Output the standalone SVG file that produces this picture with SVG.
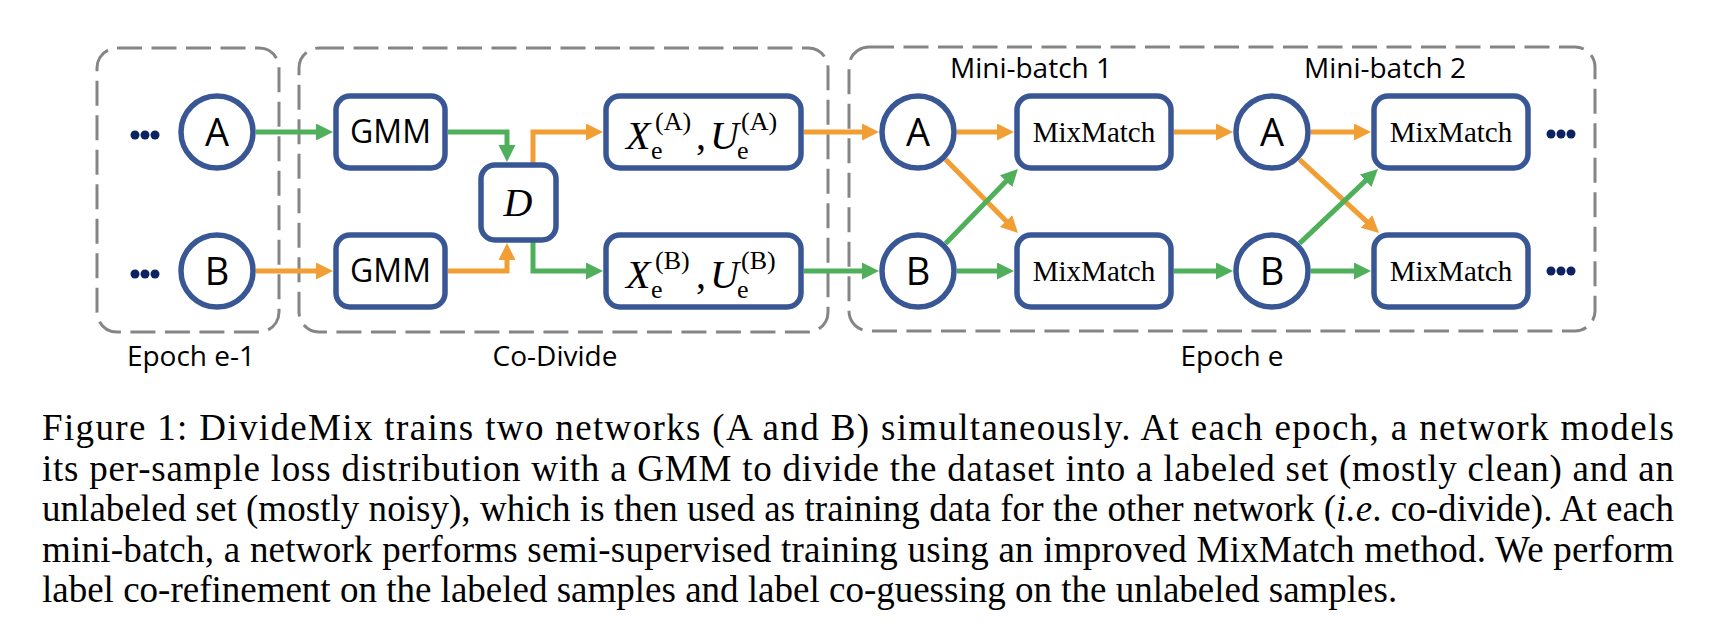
<svg xmlns="http://www.w3.org/2000/svg" width="1716" height="636" viewBox="0 0 1716 636">
<style>
.grp{fill:none;stroke:#858585;stroke-width:3;stroke-dasharray:25 9.5}
.nd{fill:#fff;stroke:#3A5795;stroke-width:5.5}
.lbl{font-family:"Open Sans","Noto Sans",sans-serif;font-size:28px;fill:#000;text-anchor:middle}
.ab{font-family:"Open Sans","Noto Sans",sans-serif;font-size:38px;fill:#000;text-anchor:middle}
.gmm{font-family:"Open Sans","Noto Sans",sans-serif;font-size:32px;fill:#000;text-anchor:middle}
.mm{font-family:"Liberation Serif",serif;font-size:29px;fill:#000;text-anchor:middle}
.math{font-family:"Liberation Serif",serif;fill:#000;font-size:40px}
.it{font-style:italic}
.sm{font-size:26px}
.cap{font-family:"Liberation Serif",serif;font-size:37px;fill:#000}
.o{fill:none;stroke:#F19E35;stroke-width:5}
.g{fill:none;stroke:#50AF5A;stroke-width:5}
.dot{fill:#0C2261}
</style>
<defs>
<marker id="ao" markerUnits="userSpaceOnUse" markerWidth="18" markerHeight="18" refX="7" refY="8.5" orient="auto"><path d="M0,0 L17,8.5 L0,17 z" fill="#F19E35"/></marker>
<marker id="ag" markerUnits="userSpaceOnUse" markerWidth="18" markerHeight="18" refX="7" refY="8.5" orient="auto"><path d="M0,0 L17,8.5 L0,17 z" fill="#50AF5A"/></marker>
</defs>

<g id="groups">
<rect class="grp" x="97" y="48" width="182" height="284" rx="20"/>
<rect class="grp" x="299" y="48" width="529" height="284" rx="20"/>
<rect class="grp" x="849" y="47" width="746" height="284" rx="20"/>
<text class="lbl" x="191" y="366">Epoch e-1</text>
<text class="lbl" x="555" y="366">Co-Divide</text>
<text class="lbl" x="1232" y="366">Epoch e</text>
<text class="lbl" x="1031" y="78">Mini-batch 1</text>
<text class="lbl" x="1385" y="78">Mini-batch 2</text>
</g>

<g id="connectors">
<path class="g" d="M256,132 H323" marker-end="url(#ag)"/>
<path class="o" d="M256,271 H323" marker-end="url(#ao)"/>
<path class="g" d="M448,132 H507 V152" marker-end="url(#ag)"/>
<path class="o" d="M448,271 H507 V253" marker-end="url(#ao)"/>
<path class="o" d="M533,165 V132 H593" marker-end="url(#ao)"/>
<path class="g" d="M533,240 V271 H593" marker-end="url(#ag)"/>
<path class="o" d="M804,132 H869" marker-end="url(#ao)"/>
<path class="g" d="M804,271 H869" marker-end="url(#ag)"/>
<path class="o" d="M957,132 H1004" marker-end="url(#ao)"/>
<path class="o" d="M945.6,159.6 L1011,225.9" marker-end="url(#ao)"/>
<path class="g" d="M945.6,243.4 L1011,176.2" marker-end="url(#ag)"/>
<path class="g" d="M957,271 H1004" marker-end="url(#ag)"/>
<path class="o" d="M1174,132 H1223" marker-end="url(#ao)"/>
<path class="g" d="M1174,271 H1223" marker-end="url(#ag)"/>
<path class="o" d="M1311,132 H1361" marker-end="url(#ao)"/>
<path class="o" d="M1299.6,159.6 L1371.7,226.2" marker-end="url(#ao)"/>
<path class="g" d="M1299.6,243.4 L1370.7,175.9" marker-end="url(#ag)"/>
<path class="g" d="M1311,271 H1361" marker-end="url(#ag)"/>
</g>

<g id="dots-left">
<circle class="dot" cx="135" cy="135" r="4.5"/><circle class="dot" cx="145" cy="135" r="4.5"/><circle class="dot" cx="155" cy="135" r="4.5"/>
<circle class="dot" cx="135" cy="274" r="4.5"/><circle class="dot" cx="145" cy="274" r="4.5"/><circle class="dot" cx="155" cy="274" r="4.5"/>
</g>
<g id="dots-right">
<circle class="dot" cx="1551" cy="134" r="4.5"/><circle class="dot" cx="1561" cy="134" r="4.5"/><circle class="dot" cx="1571" cy="134" r="4.5"/>
<circle class="dot" cx="1551" cy="271" r="4.5"/><circle class="dot" cx="1561" cy="271" r="4.5"/><circle class="dot" cx="1571" cy="271" r="4.5"/>
</g>

<g id="A1"><circle class="nd" cx="217" cy="132" r="36"/><text class="ab" x="217" y="146">A</text></g>
<g id="B1"><circle class="nd" cx="217" cy="271" r="36"/><text class="ab" x="217" y="285">B</text></g>
<g id="GMM-A"><rect class="nd" x="336" y="96" width="109" height="72" rx="14"/><text class="gmm" x="390.5" y="143">GMM</text></g>
<g id="GMM-B"><rect class="nd" x="336" y="235" width="109" height="72" rx="14"/><text class="gmm" x="390.5" y="282">GMM</text></g>
<g id="D"><rect class="nd" x="481" y="165" width="75" height="75" rx="14"/><text class="math it" x="518" y="216" text-anchor="middle">D</text></g>
<g id="XA"><rect class="nd" x="606" y="96" width="195" height="72" rx="14"/>
<text class="math"><tspan class="it" x="626" y="149">X</tspan><tspan class="sm" x="651" y="159">e</tspan><tspan class="sm" x="655" y="130">(A)</tspan><tspan x="696" y="149">,</tspan><tspan class="it" x="710" y="149">U</tspan><tspan class="sm" x="737" y="159">e</tspan><tspan class="sm" x="741" y="130">(A)</tspan></text></g>
<g id="XB"><rect class="nd" x="606" y="235" width="195" height="72" rx="14"/>
<text class="math"><tspan class="it" x="626" y="288">X</tspan><tspan class="sm" x="651" y="298">e</tspan><tspan class="sm" x="655" y="269">(B)</tspan><tspan x="696" y="288">,</tspan><tspan class="it" x="710" y="288">U</tspan><tspan class="sm" x="737" y="298">e</tspan><tspan class="sm" x="741" y="269">(B)</tspan></text></g>
<g id="A2"><circle class="nd" cx="918" cy="132" r="36"/><text class="ab" x="918" y="146">A</text></g>
<g id="B2"><circle class="nd" cx="918" cy="271" r="36"/><text class="ab" x="918" y="285">B</text></g>
<g id="MM1"><rect class="nd" x="1017" y="96" width="154" height="72" rx="14"/><text class="mm" x="1094" y="142">MixMatch</text></g>
<g id="MM2"><rect class="nd" x="1017" y="235" width="154" height="72" rx="14"/><text class="mm" x="1094" y="281">MixMatch</text></g>
<g id="A3"><circle class="nd" cx="1272" cy="132" r="36"/><text class="ab" x="1272" y="146">A</text></g>
<g id="B3"><circle class="nd" cx="1272" cy="271" r="36"/><text class="ab" x="1272" y="285">B</text></g>
<g id="MM3"><rect class="nd" x="1374" y="96" width="154" height="72" rx="14"/><text class="mm" x="1451" y="142">MixMatch</text></g>
<g id="MM4"><rect class="nd" x="1374" y="235" width="154" height="72" rx="14"/><text class="mm" x="1451" y="281">MixMatch</text></g>

<g id="caption">
<text class="cap" x="42" y="440" textLength="1632" lengthAdjust="spacing">Figure 1:  DivideMix trains two networks (A and B) simultaneously.  At each epoch, a network models</text>
<text class="cap" x="42" y="481" textLength="1632" lengthAdjust="spacing">its per-sample loss distribution with a GMM to divide the dataset into a labeled set (mostly clean) and an</text>
<text class="cap" x="42" y="521" textLength="1632" lengthAdjust="spacing">unlabeled set (mostly noisy), which is then used as training data for the other network (<tspan font-style="italic">i.e</tspan>. co-divide). At each</text>
<text class="cap" x="42" y="562" textLength="1632" lengthAdjust="spacing">mini-batch, a network performs semi-supervised training using an improved MixMatch method. We perform</text>
<text class="cap" x="42" y="602">label co-refinement on the labeled samples and label co-guessing on the unlabeled samples.</text>
</g>
</svg>
